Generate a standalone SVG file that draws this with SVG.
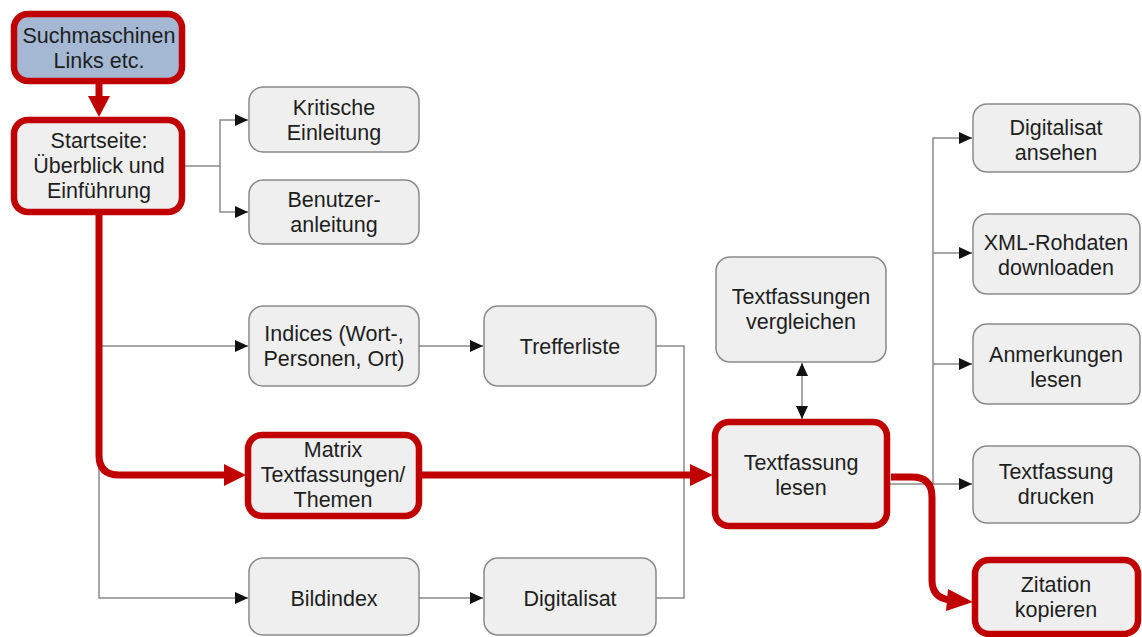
<svg xmlns="http://www.w3.org/2000/svg" width="1142" height="637" viewBox="0 0 1142 637">
  <style>
    .box { fill: #efefef; stroke: #8a8a8a; stroke-width: 1.5; }
    .hot { fill: #efefef; stroke: #c00000; stroke-width: 6.5; }
    .src { fill: #a4b8d3; stroke: #c00000; stroke-width: 6.5; }
    .lbl { font-family: "Liberation Sans", Arial, sans-serif; font-size: 21.5px; fill: #1e1e1e; text-anchor: middle; }
    .thin { fill: none; stroke: #8a8a8a; stroke-width: 1.5; }
    .thick { fill: none; stroke: #c00000; stroke-width: 7; stroke-linejoin: round; }
  </style>
  <defs>
    <marker id="arr" viewBox="0 0 10 10" refX="10" refY="5" markerWidth="13" markerHeight="12" markerUnits="userSpaceOnUse" orient="auto" preserveAspectRatio="none">
      <path d="M0,0 L10,5 L0,10 z" fill="#111"/>
    </marker>
    <marker id="arrStart" viewBox="0 0 10 10" refX="0" refY="5" markerWidth="13" markerHeight="12" markerUnits="userSpaceOnUse" orient="auto" preserveAspectRatio="none">
      <path d="M10,0 L0,5 L10,10 z" fill="#111"/>
    </marker>
    <marker id="redArr" viewBox="0 0 10 10" refX="10" refY="5" markerWidth="24" markerHeight="24" markerUnits="userSpaceOnUse" orient="auto" preserveAspectRatio="none">
      <path d="M0,0 L10,5 L0,10 z" fill="#c00000"/>
    </marker>
  </defs>

  <g id="connectors">
    <!-- thin grey links -->
    <path class="thin" d="M183,166 H220 V120 H248" marker-end="url(#arr)"/>
    <path class="thin" d="M220,166 V212 H248" marker-end="url(#arr)"/>
    <path class="thin" d="M99,346 H248" marker-end="url(#arr)"/>
    <path class="thin" d="M99,346 V598 H248" marker-end="url(#arr)"/>
    <path class="thin" d="M419,346 H483" marker-end="url(#arr)"/>
    <path class="thin" d="M419,598 H483" marker-end="url(#arr)"/>
    <path class="thin" d="M656,346 H684 V598 H656"/>
    <path class="thin" d="M802,363 V419" marker-start="url(#arrStart)" marker-end="url(#arr)"/>
    <path class="thin" d="M889,484 H933 V138 H972" marker-end="url(#arr)"/>
    <path class="thin" d="M933,253 H972" marker-end="url(#arr)"/>
    <path class="thin" d="M933,364 H972" marker-end="url(#arr)"/>
    <path class="thin" d="M933,484 H972" marker-end="url(#arr)"/>
    <!-- highlighted red path -->
    <path class="thick" d="M99,83 V100"/>
    <path d="M88,96 L110,96 L99,117 z" fill="#c00000"/>
    <path class="thick" d="M99,214 V455 Q99,475 119,475 H230"/>
    <path d="M224,464 L246,475 L224,486 z" fill="#c00000"/>
    <path class="thick" d="M421,475 H697"/>
    <path d="M690,464 L713,475 L690,486 z" fill="#c00000"/>
    <path class="thick" d="M891,477 H912 Q932,477 932,497 V580 Q932,598 950,600"/>
    <path d="M948,589 L973,602 L946,611 z" fill="#c00000"/>
  </g>

  <g id="n-suchmaschinen">
    <rect class="src" x="14" y="14" width="168" height="67" rx="14"/>
    <text class="lbl" x="99" y="43">Suchmaschinen</text>
    <text class="lbl" x="99" y="68">Links etc.</text>
  </g>
  <g id="n-startseite">
    <rect class="hot" x="14" y="120" width="168" height="92" rx="14"/>
    <text class="lbl" x="99" y="148">Startseite:</text>
    <text class="lbl" x="99" y="173">Überblick und</text>
    <text class="lbl" x="99" y="198">Einführung</text>
  </g>
  <g id="n-kritische">
    <rect class="box" x="249" y="87" width="170" height="65" rx="14"/>
    <text class="lbl" x="334" y="115">Kritische</text>
    <text class="lbl" x="334" y="140">Einleitung</text>
  </g>
  <g id="n-benutzer">
    <rect class="box" x="249" y="180" width="170" height="64" rx="14"/>
    <text class="lbl" x="334" y="207">Benutzer-</text>
    <text class="lbl" x="334" y="232">anleitung</text>
  </g>
  <g id="n-indices">
    <rect class="box" x="249" y="306" width="170" height="80" rx="14"/>
    <text class="lbl" x="334" y="341">Indices (Wort-,</text>
    <text class="lbl" x="334" y="366">Personen, Ort)</text>
  </g>
  <g id="n-trefferliste">
    <rect class="box" x="484" y="306" width="172" height="80" rx="14"/>
    <text class="lbl" x="570" y="354">Trefferliste</text>
  </g>
  <g id="n-matrix">
    <rect class="hot" x="248" y="435" width="171" height="81" rx="14"/>
    <text class="lbl" x="333" y="457">Matrix</text>
    <text class="lbl" x="333" y="482">Textfassungen/</text>
    <text class="lbl" x="333" y="507">Themen</text>
  </g>
  <g id="n-bildindex">
    <rect class="box" x="249" y="558" width="170" height="77" rx="14"/>
    <text class="lbl" x="334" y="606">Bildindex</text>
  </g>
  <g id="n-digitalisat">
    <rect class="box" x="484" y="558" width="172" height="77" rx="14"/>
    <text class="lbl" x="570" y="606">Digitalisat</text>
  </g>
  <g id="n-vergleichen">
    <rect class="box" x="716" y="257" width="170" height="105" rx="14"/>
    <text class="lbl" x="801" y="304">Textfassungen</text>
    <text class="lbl" x="801" y="329">vergleichen</text>
  </g>
  <g id="n-lesen">
    <rect class="hot" x="715" y="422" width="172" height="104" rx="14"/>
    <text class="lbl" x="801" y="470">Textfassung</text>
    <text class="lbl" x="801" y="495">lesen</text>
  </g>
  <g id="n-ansehen">
    <rect class="box" x="973" y="104" width="167" height="68" rx="14"/>
    <text class="lbl" x="1056" y="135">Digitalisat</text>
    <text class="lbl" x="1056" y="160">ansehen</text>
  </g>
  <g id="n-xml">
    <rect class="box" x="973" y="214" width="167" height="80" rx="14"/>
    <text class="lbl" x="1056" y="250">XML-Rohdaten</text>
    <text class="lbl" x="1056" y="275">downloaden</text>
  </g>
  <g id="n-anmerkungen">
    <rect class="box" x="973" y="324" width="167" height="80" rx="14"/>
    <text class="lbl" x="1056" y="362">Anmerkungen</text>
    <text class="lbl" x="1056" y="387">lesen</text>
  </g>
  <g id="n-drucken">
    <rect class="box" x="973" y="446" width="167" height="77" rx="14"/>
    <text class="lbl" x="1056" y="479">Textfassung</text>
    <text class="lbl" x="1056" y="504">drucken</text>
  </g>
  <g id="n-zitation">
    <rect class="hot" x="975" y="560" width="163" height="74" rx="14"/>
    <text class="lbl" x="1056" y="592">Zitation</text>
    <text class="lbl" x="1056" y="617">kopieren</text>
  </g>
</svg>
